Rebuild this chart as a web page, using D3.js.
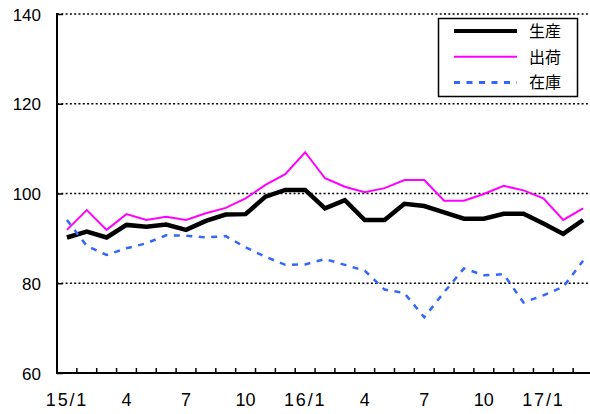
<!DOCTYPE html>
<html>
<head>
<meta charset="utf-8">
<script src="https://cdn.jsdelivr.net/npm/d3@7"></script>
<style>
  html, body { margin: 0; padding: 0; background: #fff; }
  svg { display: block; }
  text { font-family: "Liberation Sans", Arial, sans-serif; fill: #000; }
  .jp { font-family: "Noto Sans CJK JP", sans-serif; }
</style>
</head>
<body>
<svg id="chart" width="590" height="414"></svg>
<script>
const months = ["15/1","15/2","15/3","15/4","15/5","15/6","15/7","15/8","15/9","15/10","15/11","15/12",
                "16/1","16/2","16/3","16/4","16/5","16/6","16/7","16/8","16/9","16/10","16/11","16/12",
                "17/1","17/2","17/3"];
const tickLabels = {"15/1":"15/1","15/4":"4","15/7":"7","15/10":"10","16/1":"16/1","16/4":"4","16/7":"7","16/10":"10","17/1":"17/1"};
const production = [90.2, 91.5, 90.2, 93.0, 92.6, 93.1, 91.9, 93.9, 95.3, 95.4, 99.3, 100.8, 100.8, 96.7, 98.5, 94.1, 94.1, 97.7, 97.2, 95.8, 94.4, 94.4, 95.5, 95.5, 93.3, 91.0, 94.1];
const shipments  = [91.9, 96.3, 91.9, 95.4, 94.1, 94.8, 94.1, 95.6, 96.8, 98.9, 101.9, 104.3, 109.2, 103.4, 101.5, 100.3, 101.2, 103.0, 103.0, 98.4, 98.4, 99.9, 101.7, 100.7, 98.9, 94.1, 96.7];
const inventory  = [94.1, 88.3, 86.3, 87.8, 88.9, 90.7, 90.6, 90.2, 90.5, 88.0, 85.9, 84.1, 84.2, 85.4, 84.1, 82.8, 78.6, 77.8, 72.4, 78.0, 83.3, 81.8, 82.0, 75.7, 77.3, 79.2, 85.0];
const yTicks = [60, 80, 100, 120, 140];
const seriesNames = ["生産", "出荷", "在庫"];

(function () {
const svg = d3.select("#chart");
const pL = 57, pR = 593, pT = 14, pB = 373;

const x = d3.scaleBand().domain(months).range([pL, pR]).padding(0);
const y = d3.scaleLinear().domain([60, 140]).range([pB, pT]);
const cx = d => x(d) + x.bandwidth() / 2;

// gridlines
svg.append("g").selectAll("line").data(yTicks.filter(v => v > 60)).join("line")
  .attr("x1", pL).attr("x2", 590)
  .attr("y1", d => y(d)).attr("y2", d => y(d))
  .attr("stroke", "#000").attr("stroke-width", 1.6).attr("stroke-dasharray", "2,2.3");

// y axis
const yAxis = d3.axisLeft(y).tickValues(yTicks).tickSize(-6).tickPadding(16).tickFormat(d3.format("d"));
const gy = svg.append("g").attr("transform", `translate(${pL},0)`).call(yAxis);
gy.select(".domain").remove();
gy.selectAll(".tick line").attr("stroke", "#000").attr("stroke-width", 1.5);
gy.selectAll(".tick text").style("font-size", "17px").attr("dy", "0.36em")
  .style("font-family", "'Liberation Sans', Arial, sans-serif");
svg.append("line").attr("x1", pL).attr("x2", pL).attr("y1", pT - 1).attr("y2", pB + 1)
  .attr("stroke", "#000").attr("stroke-width", 2);

// x axis
const xAxis = d3.axisBottom(x).tickSize(0).tickPadding(20).tickFormat(d => tickLabels[d] || "");
const gx = svg.append("g").attr("transform", `translate(0,${pB})`).call(xAxis);
gx.select(".domain").remove();
gx.selectAll(".tick text").style("font-size", "18px")
  .style("font-family", "'Liberation Sans', Arial, sans-serif")
  .style("letter-spacing", d => (tickLabels[d] || "").includes("/") ? "1.8px" : "0px");
// boundary ticks (inward)
svg.append("g").selectAll("line").data(months).join("line")
  .attr("x1", d => x(d) + x.bandwidth())
  .attr("x2", d => x(d) + x.bandwidth())
  .attr("y1", pB).attr("y2", pB - 5)
  .attr("stroke", "#000").attr("stroke-width", 1.5);
svg.append("line").attr("x1", pL - 1).attr("x2", 590).attr("y1", pB).attr("y2", pB)
  .attr("stroke", "#000").attr("stroke-width", 2);

// lines
const line = d3.line().x((d, i) => cx(months[i])).y(d => y(d));
svg.append("path").datum(production).attr("d", line)
  .attr("fill", "none").attr("stroke", "#000").attr("stroke-width", 4.5);
svg.append("path").datum(shipments).attr("d", line)
  .attr("fill", "none").attr("stroke", "#ff00ff").attr("stroke-width", 2);
svg.append("path").datum(inventory).attr("d", line)
  .attr("fill", "none").attr("stroke", "#3366ff").attr("stroke-width", 2.5)
  .attr("stroke-dasharray", "6,6.5");

// legend
const lg = svg.append("g");
lg.append("rect").attr("x", 438.5).attr("y", 18.5).attr("width", 139).attr("height", 78)
  .attr("fill", "#fff").attr("stroke", "#000").attr("stroke-width", 1.5);
const styles = [
  {stroke: "#000", w: 4, dash: null},
  {stroke: "#ff00ff", w: 2, dash: null},
  {stroke: "#3366ff", w: 3, dash: "6,6.5"}
];
seriesNames.forEach((name, i) => {
  const yy = 31 + i * 25.8;
  lg.append("line").attr("x1", 454).attr("x2", 517).attr("y1", yy).attr("y2", yy)
    .attr("stroke", styles[i].stroke).attr("stroke-width", styles[i].w)
    .attr("stroke-dasharray", styles[i].dash);
  lg.append("text").attr("class", "jp").attr("x", 529).attr("y", yy).attr("dy", "0.36em")
    .style("font-size", "16px").text(name);
});
})();
</script>
</body>
</html>
